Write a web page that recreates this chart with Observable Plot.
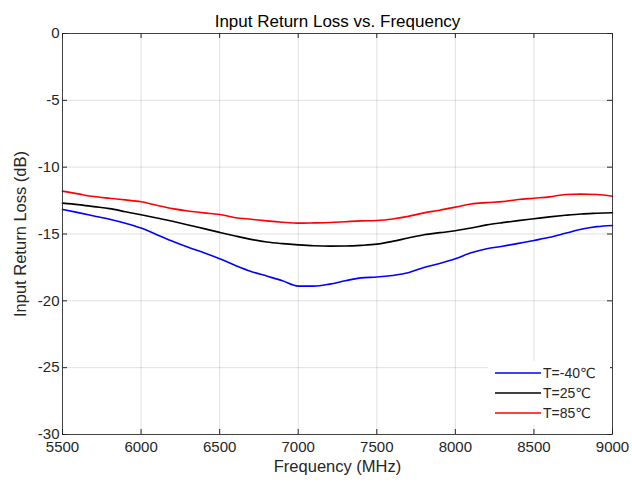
<!DOCTYPE html>
<html>
<head>
<meta charset="utf-8">
<script src="https://cdn.jsdelivr.net/npm/d3@7"></script>
<script src="https://cdn.jsdelivr.net/npm/@observablehq/plot@0.6"></script>
<style>
  html, body { margin: 0; padding: 0; background: #fff; }
</style>
</head>
<body>
<div id="chart"></div>
<script>
// Frequency sweep (MHz)
const freq = [5500, 5600, 5700, 5800, 5900, 6000, 6100, 6200, 6300, 6400, 6500, 6600,
  6700, 6800, 6900, 7000, 7100, 7200, 7300, 7400, 7500, 7600, 7700, 7800, 7900, 8000,
  8100, 8200, 8300, 8400, 8500, 8600, 8700, 8800, 8900, 9000];

// Input return loss (dB) at each temperature
const rlMinus40 = [-13.16, -13.4, -13.65, -13.9, -14.2, -14.56, -15.05, -15.55, -16.0, -16.4,
  -16.85, -17.35, -17.8, -18.15, -18.5, -18.9, -18.9, -18.75, -18.5, -18.28, -18.22, -18.1,
  -17.9, -17.5, -17.2, -16.85, -16.4, -16.1, -15.92, -15.7, -15.48, -15.25, -14.95, -14.65,
  -14.45, -14.36];
const rl25 = [-12.69, -12.8, -12.95, -13.1, -13.33, -13.56, -13.8, -14.05, -14.32, -14.6,
  -14.88, -15.15, -15.4, -15.6, -15.72, -15.81, -15.88, -15.91, -15.9, -15.85, -15.76, -15.55,
  -15.3, -15.06, -14.9, -14.76, -14.55, -14.32, -14.15, -14.0, -13.86, -13.72, -13.6, -13.5,
  -13.45, -13.41];
const rl85 = [-11.79, -12.0, -12.2, -12.33, -12.45, -12.59, -12.85, -13.1, -13.28, -13.42,
  -13.54, -13.78, -13.9, -14.02, -14.12, -14.19, -14.17, -14.14, -14.08, -14.02, -13.99, -13.88,
  -13.68, -13.42, -13.22, -12.99, -12.75, -12.65, -12.58, -12.42, -12.32, -12.22, -12.05, -12.02,
  -12.05, -12.17];

const seriesNames = ["T=-40℃", "T=25℃", "T=85℃"];
const seriesColors = ["#0000ff", "#000000", "#ff0000"];
const xTicks = [5500, 6000, 6500, 7000, 7500, 8000, 8500, 9000];
const yTicks = [0, -5, -10, -15, -20, -25, -30];

const seriesValues = [rlMinus40, rl25, rl85];
const rows = seriesValues.flatMap((vals, s) =>
  freq.map((f, i) => ({ freq: f, rl: vals[i], series: seriesNames[s] })));

const axisColor = "#262626";
const frameW = 632 - 62 - 20;
const frameH = 483 - 33 - 49;

const svg = Plot.plot({
  width: 632,
  height: 483,
  marginLeft: 62,
  marginRight: 20,
  marginTop: 33,
  marginBottom: 49,
  style: { fontFamily: "'Liberation Sans', Arial, sans-serif", fontSize: "15px", color: axisColor, background: "#fff" },
  x: { domain: [5500, 9000] },
  y: { domain: [-30, 0] },
  color: { domain: seriesNames, range: seriesColors },
  marks: [
    Plot.gridX(xTicks, { stroke: "#000", strokeOpacity: 0.12 }),
    Plot.gridY(yTicks, { stroke: "#000", strokeOpacity: 0.12 }),
    Plot.axisX(xTicks, { tickSize: 0, tickPadding: 7, label: null, tickFormat: d => String(d), fontSize: 15 }),
    Plot.axisY(yTicks, { tickSize: 0, tickPadding: 3, label: null, tickFormat: d => String(d), fontSize: 15 }),
    // inward tick marks on all four sides
    Plot.tickX(xTicks, { x: d => d, insetTop: frameH - 5, stroke: axisColor }),
    Plot.tickX(xTicks, { x: d => d, insetBottom: frameH - 5, stroke: axisColor }),
    Plot.tickY(yTicks, { y: d => d, insetRight: frameW - 5, stroke: axisColor }),
    Plot.tickY(yTicks, { y: d => d, insetLeft: frameW - 5, stroke: axisColor }),
    Plot.line(rows, { x: "freq", y: "rl", z: "series", stroke: "series", strokeWidth: 1.6, curve: "monotone-x" }),
    Plot.frame({ stroke: axisColor, strokeOpacity: 0.85 }),
    Plot.text(["Input Return Loss vs. Frequency"], { frameAnchor: "top", dy: -19, fontSize: 17, fill: "#000" }),
    Plot.text(["Frequency (MHz)"], { frameAnchor: "bottom", dy: 37, fontSize: 16.5, fill: axisColor }),
    Plot.text(["Input Return Loss (dB)"], { frameAnchor: "left", dx: -42, rotate: -90, textAnchor: "middle", lineAnchor: "middle", fontSize: 16.5, fill: axisColor })
  ]
});

// Legend in the lower-right corner of the axes box
const lg = d3.select(svg).append("g")
  .attr("font-family", "'Liberation Sans', Arial, 'DejaVu Sans', sans-serif")
  .attr("font-size", 14)
  .attr("text-anchor", "start");
lg.append("rect")
  .attr("x", 488).attr("y", 361).attr("width", 122).attr("height", 64)
  .attr("fill", "#fff");
seriesNames.forEach((name, i) => {
  const y = 373 + i * 20;
  lg.append("line")
    .attr("x1", 495).attr("x2", 541).attr("y1", y).attr("y2", y)
    .attr("stroke", seriesColors[i]).attr("stroke-width", 1.6);
  lg.append("text")
    .attr("x", 543).attr("y", y).attr("dy", "0.35em")
    .attr("text-anchor", "start")
    .attr("fill", axisColor)
    .text(name);
});

document.getElementById("chart").appendChild(svg);
</script>
</body>
</html>
